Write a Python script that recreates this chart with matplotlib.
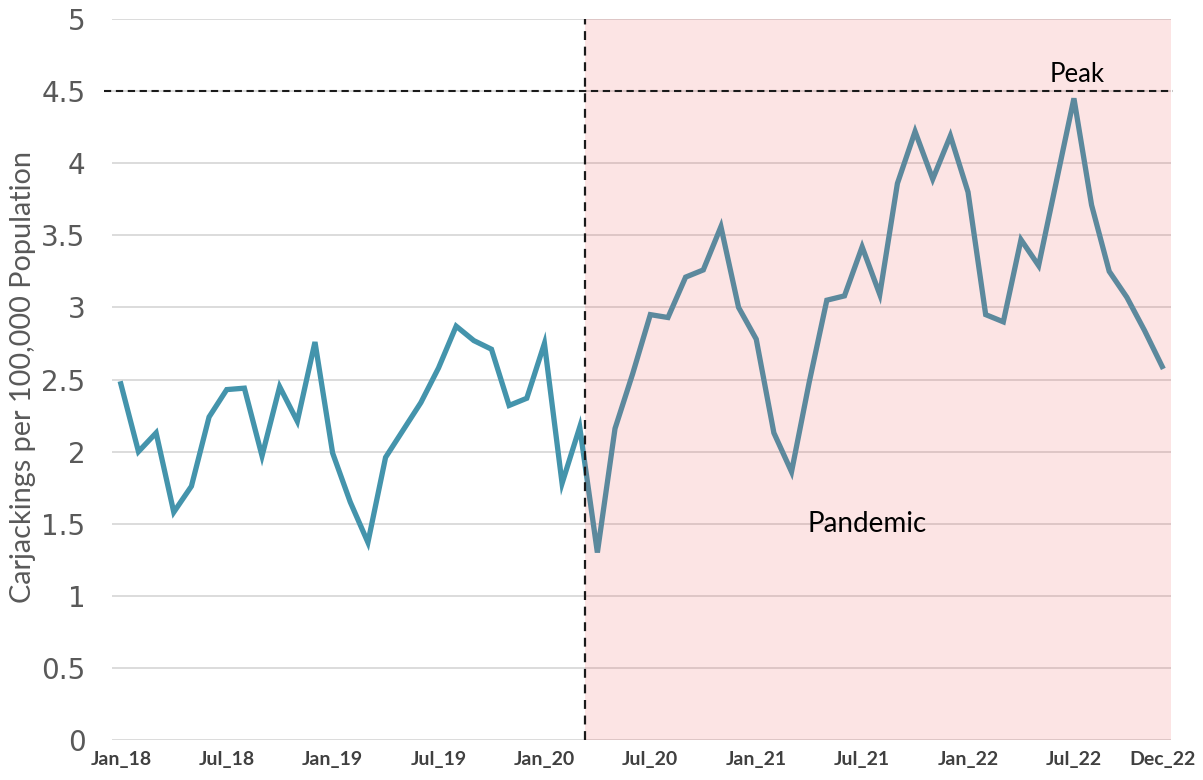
import matplotlib
matplotlib.use("Agg")
import matplotlib.pyplot as plt

# monthly carjacking rate, Jan 2018 .. Dec 2022
rate = [2.47, 2.00, 2.13, 1.58, 1.76, 2.24, 2.43, 2.44, 1.97, 2.45, 2.21, 2.76,
        1.99, 1.65, 1.37, 1.96, 2.15, 2.34, 2.58, 2.87, 2.77, 2.71, 2.32, 2.37,
        2.75, 1.78, 2.17, 1.30, 2.16, 2.54, 2.95, 2.93, 3.21, 3.26, 3.56, 3.00,
        2.78, 2.13, 1.86, 2.48, 3.05, 3.08, 3.42, 3.09, 3.86, 4.22, 3.89, 4.19,
        3.80, 2.95, 2.90, 3.47, 3.29, 3.87, 4.45, 3.71, 3.25, 3.07, 2.84, 2.59]
months = list(range(len(rate)))

tick_pos = [0, 6, 12, 18, 24, 30, 36, 42, 48, 54, 59]
tick_labels = ["Jan_18", "Jul_18", "Jan_19", "Jul_19", "Jan_20", "Jul_20",
               "Jan_21", "Jul_21", "Jan_22", "Jul_22", "Dec_22"]
y_ticks = [0, 0.5, 1, 1.5, 2, 2.5, 3, 3.5, 4, 4.5, 5]
y_labels = ["0", "0.5", "1", "1.5", "2", "2.5", "3", "3.5", "4", "4.5", "5"]

PANDEMIC_START = 26.3
PEAK = 4.5

fig = plt.figure(figsize=(12.03, 7.8), dpi=100)
ax = fig.add_axes([0.0931, 0.0513, 0.8803, 0.9243])

ax.plot(months, rate, color="#4494AC", lw=3.8, solid_joinstyle="miter", zorder=2)

# pandemic shading sits on top of the line, so the line turns greyish
ax.axvspan(PANDEMIC_START, 59.5, color=(235/255, 75/255, 75/255), alpha=0.15,
           lw=0, zorder=3)
ax.axvline(PANDEMIC_START, color="#1a1a1a", lw=1.6, dashes=(4, 3), zorder=4)
ax.plot([-0.008, 1.002], [PEAK, PEAK], transform=ax.get_yaxis_transform(),
        color="#1a1a1a", lw=1.5, dashes=(3.5, 2.2), clip_on=False, zorder=4)

ax.text(54.2, 4.53, "Peak", ha="center", va="bottom", fontsize=18.5,
        family="Lato", color="black", zorder=5)
ax.text(42.3, 1.50, "Pandemic", ha="center", va="center", fontsize=20,
        family="Lato", color="black", zorder=5)

ax.set_xlim(-0.5, 59.5)
ax.set_ylim(0, 5)
ax.set_yticks(y_ticks)
ax.set_yticklabels(y_labels, fontsize=20, color="#595959", family="DejaVu Sans")
ax.set_xticks(tick_pos)
ax.set_xticklabels(tick_labels, fontsize=14, fontweight="bold", color="#404040",
                   family="Lato")
ax.tick_params(axis="y", length=0, pad=19)
ax.tick_params(axis="x", length=0, pad=8)
ax.set_ylabel("Carjackings per 100,000 Population", fontsize=20.8,
              color="#595959", family="Lato")
ax.yaxis.set_label_coords(-0.072, 0.503)

ax.grid(axis="y", color="#D9D9D9", lw=1.3, zorder=0)
ax.set_axisbelow(True)
for s in ax.spines.values():
    s.set_visible(False)

fig.savefig("out.png", dpi=100)
